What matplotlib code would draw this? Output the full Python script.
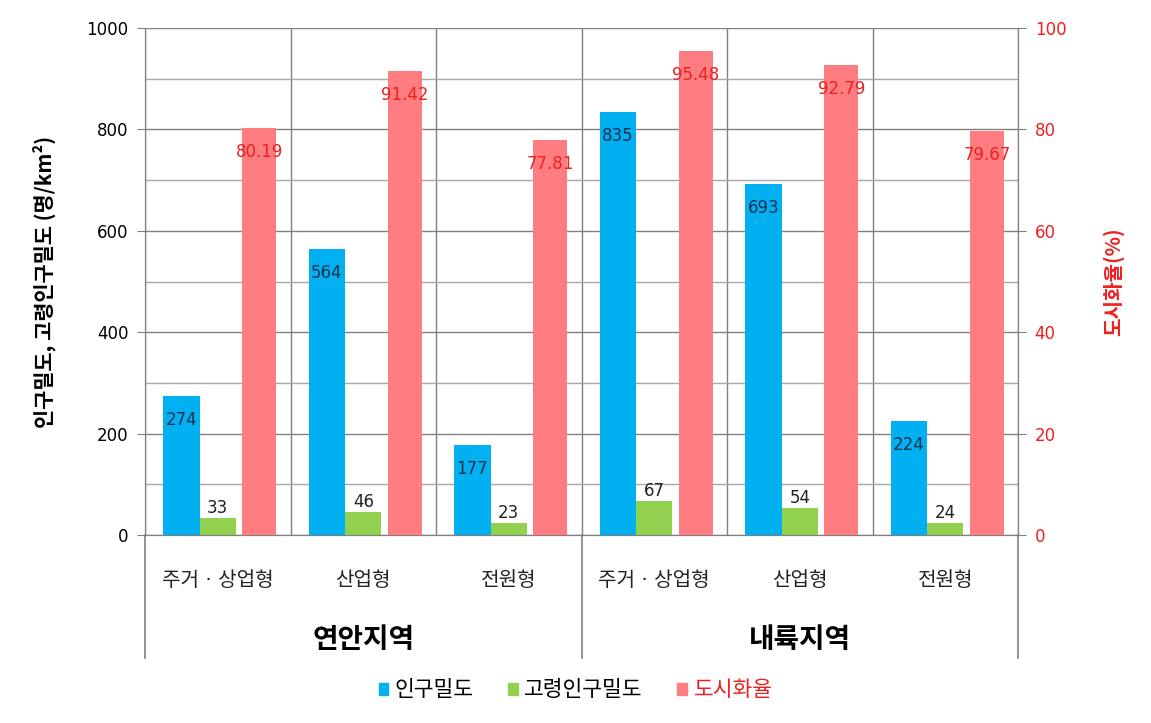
import numpy as np
import matplotlib
matplotlib.use('Agg')
import matplotlib.pyplot as plt
from matplotlib.patches import Patch

plt.rcParams['font.family'] = ['DejaVu Sans', 'Noto Sans CJK KR']

categories = ['주거 · 상업형', '산업형', '전원형', '주거 · 상업형', '산업형', '전원형']
groups = ['연안지역', '내륙지역']
pop_density = [274, 564, 177, 835, 693, 224]
elderly_density = [33, 46, 23, 67, 54, 24]
urban_rate = [80.19, 91.42, 77.81, 95.48, 92.79, 79.67]

c_blue = '#00b0f0'
c_green = '#92d050'
c_red = '#ff7c80'
c_grid = '#808080'
c_grid_minor = '#a8a8a8'
c_redtxt = '#ee2020'

fig = plt.figure(figsize=(11.51, 7.23), dpi=100)
ax = fig.add_axes([0.126, 0.26, 0.7585, 0.7013])
ax2 = ax.twinx()

x = np.arange(len(categories))
ax.bar(x - 0.25, pop_density, width=0.25, color=c_blue, zorder=3)
ax.bar(x, elderly_density, width=0.25, color=c_green, zorder=3)
ax2.bar(x + 0.285, urban_rate, width=0.235, color=c_red, zorder=3)

ax.set_xlim(-0.5, len(categories) - 0.5)
ax.set_ylim(0, 1000)
ax2.set_ylim(0, 100)
ax.set_yticks(np.arange(0, 1001, 200))
ax.set_yticks(np.arange(100, 1000, 200), minor=True)
ax2.set_yticks(np.arange(0, 101, 20))
ax2.set_yticks([], minor=True)

ax.set_axisbelow(True)
ax.grid(axis='y', which='major', color=c_grid, lw=1.0)
ax.grid(axis='y', which='minor', color=c_grid_minor, lw=1.0)
ax.set_xticks(np.arange(len(categories) + 1) - 0.5, minor=True)
ax.grid(axis='x', which='minor', color=c_grid, lw=1.0)
ax.set_xticks(x)
ax.set_xticklabels(categories, fontsize=14.5, color='#222222')
ax.tick_params(axis='x', which='both', length=0, pad=26)

ax.tick_params(axis='y', which='major', length=6, color=c_grid, labelsize=12, pad=6)
ax.tick_params(axis='y', which='minor', length=0)
ax2.tick_params(axis='y', length=6, color=c_grid, labelsize=12, labelcolor=c_redtxt, pad=6)

for a in (ax, ax2):
    for s in a.spines.values():
        s.set_color(c_grid)
    a.spines['top'].set_visible(False)

ax.set_ylabel('인구밀도, 고령인구밀도 (명/km²)', fontsize=15, fontweight='bold',
              family=['Noto Sans CJK KR', 'DejaVu Sans'], labelpad=22)
ax2.set_ylabel('도시화율(%)', fontsize=14.5, fontweight='bold', color=c_redtxt,
               family=['Noto Sans CJK KR', 'DejaVu Sans'], labelpad=26)

# data labels
for xi, v in zip(x, pop_density):
    ax.annotate(str(v), (xi - 0.25, v), xytext=(0, -24), textcoords='offset pixels',
                ha='center', va='center', fontsize=12, color='#17304f')
for xi, v in zip(x, elderly_density):
    ax.annotate(str(v), (xi, v), xytext=(0, 1), textcoords='offset pixels',
                ha='center', va='bottom', fontsize=12, color='#222222')
for xi, v in zip(x, urban_rate):
    ax2.annotate(f'{v:.2f}', (xi + 0.285, v), xytext=(0, -24), textcoords='offset pixels',
                 ha='center', va='center', fontsize=12, color=c_redtxt)

# group labels and separators below the axis
for gi, g in enumerate(groups):
    ax.text(gi * 3 + 1, -0.207, g, transform=ax.get_xaxis_transform(), ha='center',
            va='center', fontsize=20, fontweight='bold', family=['Noto Sans CJK KR'])
for b in [-0.5, 2.5, 5.5]:
    ax.plot([b, b], [0, -0.243], transform=ax.get_xaxis_transform(), color=c_grid,
            lw=1.2, clip_on=False)

handles = [Patch(color=c_blue), Patch(color=c_green), Patch(color=c_red)]
leg = fig.legend(handles, ['인구밀도', '고령인구밀도', '도시화율'], loc='center',
                 bbox_to_anchor=(0.5, 0.045), ncol=3, frameon=False,
                 prop={'family': 'Noto Sans CJK KR', 'size': 15.5},
                 handlelength=0.45, handleheight=0.45, handletextpad=0.3, columnspacing=1.6)
leg.get_texts()[2].set_color(c_redtxt)

fig.savefig('out.png', dpi=100)
